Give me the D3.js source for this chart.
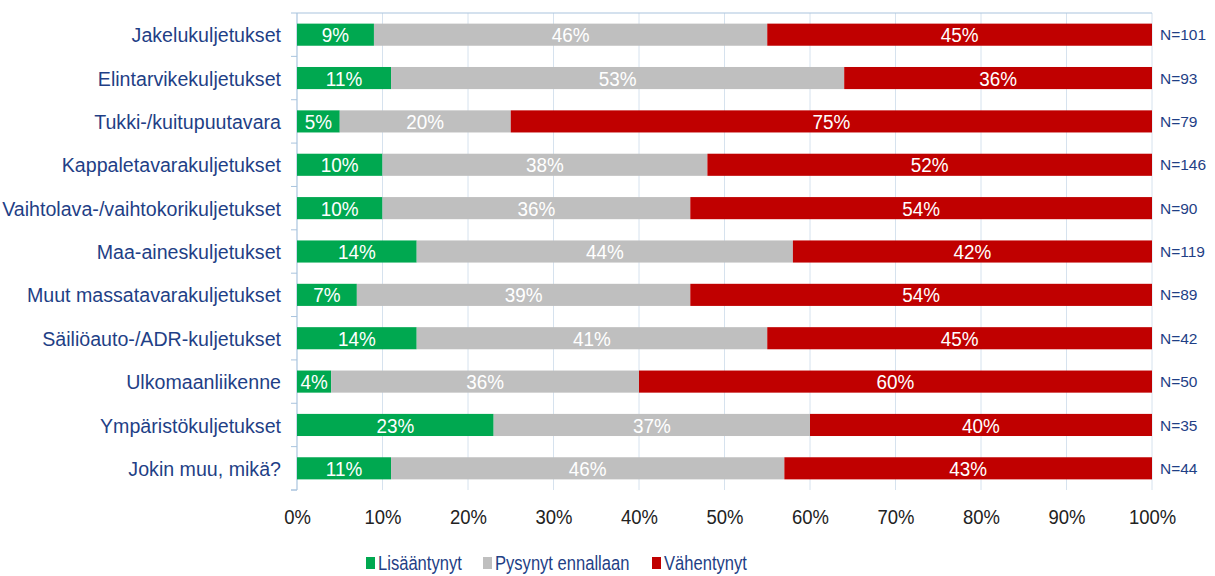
<!DOCTYPE html>
<html>
<head>
<meta charset="utf-8">
<script src="https://cdn.jsdelivr.net/npm/d3@7"></script>
<style>
  body { margin: 0; background: #fff; }
  text { font-family: "Liberation Sans", Arial, sans-serif; }
</style>
</head>
<body>
<div id="chart"></div>
<script>
var categories = ["Jakelukuljetukset", "Elintarvikekuljetukset", "Tukki-/kuitupuutavara",
  "Kappaletavarakuljetukset", "Vaihtolava-/vaihtokorikuljetukset", "Maa-aineskuljetukset",
  "Muut massatavarakuljetukset", "Säiliöauto-/ADR-kuljetukset", "Ulkomaanliikenne",
  "Ympäristökuljetukset", "Jokin muu, mikä?"];
var lisaantynyt = [9, 11, 5, 10, 10, 14, 7, 14, 4, 23, 11];
var pysynyt = [46, 53, 20, 38, 36, 44, 39, 41, 36, 37, 46];
var vahentynyt = [45, 36, 75, 52, 54, 42, 54, 45, 60, 40, 43];
var nValues = [101, 93, 79, 146, 90, 119, 89, 42, 50, 35, 44];
var seriesNames = ["Lisääntynyt", "Pysynyt ennallaan", "Vähentynyt"];
var seriesColors = ["#00A850", "#BFBFBF", "#C00000"];
var xTicks = [0, 10, 20, 30, 40, 50, 60, 70, 80, 90, 100];

var svgWidth = 1215;
var svgHeight = 576;
var margin = { top: 13, right: 63, bottom: 86, left: 297 };
var width = svgWidth - margin.left - margin.right;
var height = svgHeight - margin.top - margin.bottom;

// text in the original looks a bit squeezed sideways
var squeeze = 0.9;

var svg = d3.select("#chart").append("svg")
  .attr("width", svgWidth)
  .attr("height", svgHeight);

var chartGroup = svg.append("g")
  .attr("transform", `translate(${margin.left}, ${margin.top})`);

// build rows for stacking
var rows = categories.map(function(c, i) {
  return { cat: c, s0: lisaantynyt[i], s1: pysynyt[i], s2: vahentynyt[i], n: nValues[i] };
});
var stack = d3.stack().keys(["s0", "s1", "s2"]);
var stacked = stack(rows);

var xScale = d3.scaleLinear().domain([0, 100]).range([0, width]);
var yScale = d3.scaleBand().domain(categories).range([0, height]).paddingInner(0.49).paddingOuter(0.245);
var yEdges = d3.scaleBand().domain(categories).range([0, height]);

// gridlines
chartGroup.append("g")
  .selectAll("line")
  .data(xTicks.slice(1))
  .enter()
  .append("line")
  .attr("x1", d => xScale(d)).attr("x2", d => xScale(d))
  .attr("y1", 0).attr("y2", height)
  .attr("stroke", "#D6E2EE")
  .attr("stroke-width", 1);

// top line
chartGroup.append("line")
  .attr("x1", 0).attr("x2", width).attr("y1", 0).attr("y2", 0)
  .attr("stroke", "#A9C4DE").attr("stroke-width", 1.2);

// left axis line + ticks between categories
chartGroup.append("line")
  .attr("x1", 0).attr("x2", 0).attr("y1", 0).attr("y2", height)
  .attr("stroke", "#A9C4DE").attr("stroke-width", 1.2);
chartGroup.append("g")
  .selectAll("line")
  .data(categories.concat(["end"]))
  .enter()
  .append("line")
  .attr("x1", -6).attr("x2", 0)
  .attr("y1", (d, i) => i * yEdges.step())
  .attr("y2", (d, i) => i * yEdges.step())
  .attr("stroke", "#A9C4DE");

// bars
var layers = chartGroup.selectAll(".layer")
  .data(stacked)
  .enter()
  .append("g")
  .attr("fill", (d, i) => seriesColors[i]);

layers.selectAll("rect")
  .data(d => d)
  .enter()
  .append("rect")
  .attr("x", d => xScale(d[0]))
  .attr("width", d => xScale(d[1]) - xScale(d[0]))
  .attr("y", d => yScale(d.data.cat))
  .attr("height", yScale.bandwidth());

// value labels
layers.selectAll("text")
  .data(d => d)
  .enter()
  .append("text")
  .attr("transform", d => `translate(${(xScale(d[0]) + xScale(d[1])) / 2}, ${yScale(d.data.cat) + yScale.bandwidth() / 2}) scale(${squeeze}, 1)`)
  .attr("dy", "0.36em")
  .attr("text-anchor", "middle")
  .attr("fill", "#fff")
  .style("font-size", "21px")
  .text(d => (d[1] - d[0]) + "%");

// category labels
chartGroup.append("g")
  .selectAll("text")
  .data(categories)
  .enter()
  .append("text")
  .attr("transform", d => `translate(-16, ${yScale(d) + yScale.bandwidth() / 2}) scale(0.935, 1)`)
  .attr("dy", "0.36em")
  .attr("text-anchor", "end")
  .attr("fill", "#1F3F86")
  .style("font-size", "21px")
  .text(d => d);

// N labels
chartGroup.append("g")
  .selectAll("text")
  .data(rows)
  .enter()
  .append("text")
  .attr("x", width + 8)
  .attr("y", d => yScale(d.cat) + yScale.bandwidth() / 2)
  .attr("dy", "0.36em")
  .attr("fill", "#1F3F86")
  .style("font-size", "15.5px")
  .text(d => "N=" + d.n);

// bottom axis
var bottomAxis = d3.axisBottom(xScale)
  .tickValues(xTicks)
  .tickFormat(d => d + "%")
  .tickSize(0)
  .tickPadding(19);
var xAxis = chartGroup.append("g")
  .attr("transform", `translate(0, ${height})`)
  .call(bottomAxis);
xAxis.select(".domain").remove();
xAxis.selectAll("text")
  .attr("fill", "#222")
  .attr("transform", "scale(0.88, 1)")
  .style("font-size", "21px")
  .style("font-family", "'Liberation Sans', Arial, sans-serif");
chartGroup.append("line")
  .attr("x1", -6).attr("x2", 0).attr("y1", height).attr("y2", height)
  .attr("stroke", "#A9C4DE");

// legend
var legendX = [366, 483, 652];
var legend = svg.append("g").attr("transform", "translate(0, 563)");
var items = legend.selectAll("g")
  .data(seriesNames)
  .enter()
  .append("g")
  .attr("transform", (d, i) => `translate(${legendX[i]}, 0)`);
items.append("rect")
  .attr("x", 0).attr("y", -6)
  .attr("width", 9).attr("height", 12)
  .attr("fill", (d, i) => seriesColors[i]);
items.append("text")
  .attr("transform", "translate(12, 0) scale(0.85, 1)")
  .attr("dy", "0.36em")
  .attr("fill", "#1F3F86")
  .style("font-size", "19.5px")
  .text(d => d);
</script>
</body>
</html>
